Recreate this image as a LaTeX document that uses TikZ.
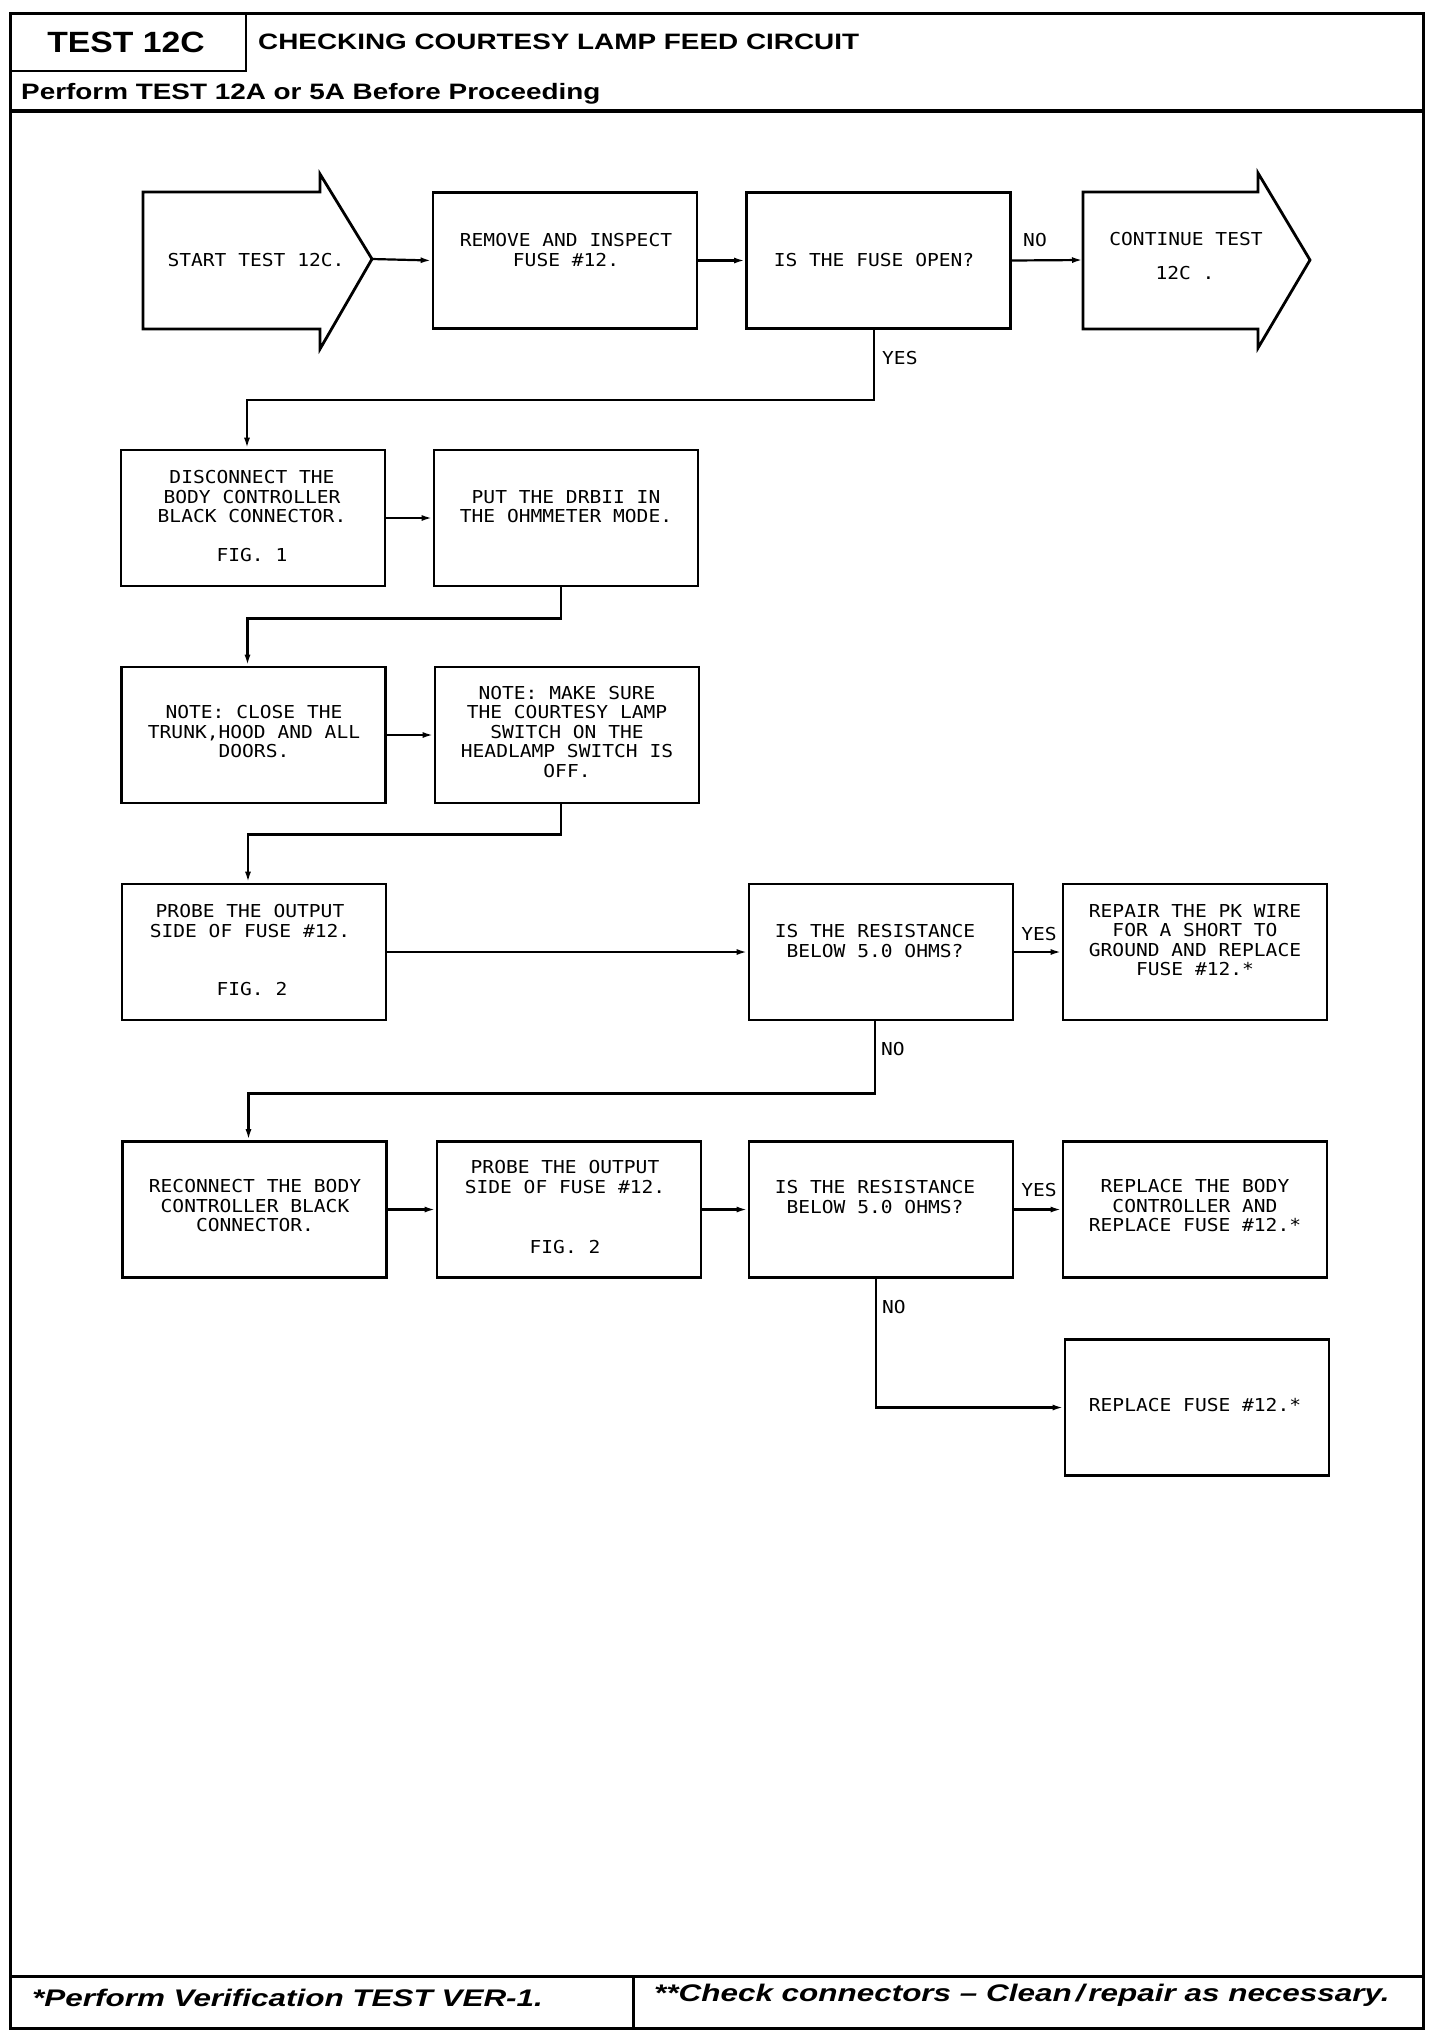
\documentclass[tikz,border=0pt]{standalone}
\usepackage{fontspec}
\usetikzlibrary{arrows.meta}
\newfontfamily\plotfont[FakeStretch=1.1]{DejaVu Sans Mono}
\newfontfamily\hdrfont[FakeStretch=1.25]{Liberation Sans}
\newfontfamily\ftrfont[FakeStretch=1.31]{Liberation Sans}
\newfontfamily\hdrbig[FakeStretch=1.15]{Liberation Sans}
\begin{document}
\begin{tikzpicture}[x=1pt,y=-1pt,
  box/.style={draw, line width=2.8pt, minimum width=264pt, minimum height=136pt, inner sep=0pt},
  outline/.style={draw, line width=2.8pt, line join=miter},
  conn/.style={line width=2.2pt, -{Latex[length=11pt,width=6pt]}},
  ptxt/.style={font=\plotfont\fontsize{17.8}{19.5}\selectfont, align=center, inner sep=0pt},
  hdr/.style={font=\hdrfont\bfseries\fontsize{22.3}{26}\selectfont, inner sep=0pt},
  ftr/.style={font=\ftrfont\bfseries\itshape\fontsize{24}{28}\selectfont, inner sep=0pt}]
\useasboundingbox (0,0) rectangle (1456,2038);
\fill[white] (0,0) rectangle (1456,2038);
% frame
\draw[line width=3pt] (10,13) rectangle (1423,2028);
\draw[line width=2.8pt] (10,71) -- (246,71) -- (246,13);
\draw[line width=4pt] (10,111) -- (1423,111);
\draw[line width=3pt] (10,1976) -- (1423,1976);
\draw[line width=3pt] (633,1976) -- (633,2028);
\node[font=\hdrbig\bfseries\fontsize{29.3}{32}\selectfont, inner sep=0pt] (ttest) at (126,42.5) {TEST 12C};
\node[hdr, anchor=base west] (ttitle) at (258,49) {CHECKING COURTESY LAMP FEED CIRCUIT};
\node[hdr, anchor=base west] (tperf) at (21,99) {Perform TEST 12A or 5A Before Proceeding};
\node[ftr, anchor=base west] (fleft) at (32,2006) {*Perform Verification TEST VER-1.};
\node[ftr, anchor=base west] (fright) at (654,2001) {**Check connectors – Clean\,/\,repair as necessary.};

% start arrow
\coordinate (stip) at (372,259);
\draw[outline] (143,192) -- (320,192) -- (320,174) -- (stip) -- (320,349) -- (320,329) -- (143,329) -- cycle;
\node[ptxt] (tstart) at (256,260) {START TEST 12C.};
% continue arrow
\coordinate (cleft) at (1083,260);
\coordinate (ctip) at (1310,260);
\draw[outline] (1083,192) -- (1258,192) -- (1258,173) -- (ctip) -- (1258,348) -- (1258,329) -- (1083,329) -- cycle;
\node[ptxt] (tcont1) at (1186,239) {CONTINUE TEST};
\node[ptxt] (tcont2) at (1185,273) {12C .};

% boxes
\node[box] (bremove) at (565,260.5) {};
\node[ptxt] (tremove) at (566,250) {REMOVE AND INSPECT\\FUSE \#12.};
\node[box] (bfuse) at (878.5,260.5) {};
\node[ptxt] (tfuse) at (874,260) {IS THE FUSE OPEN?};

\node[box] (bdisc) at (253,518) {};
\node[ptxt] (tdisc) at (252,497) {DISCONNECT THE\\BODY CONTROLLER\\BLACK CONNECTOR.};
\node[ptxt] (tfig1) at (252,555) {FIG. 1};
\node[box] (bput) at (566,518) {};
\node[ptxt] (tput) at (566,506.5) {PUT THE DRBII IN\\THE OHMMETER MODE.};

\node[box] (bclose) at (253.5,735) {};
\node[ptxt] (tclose) at (254,732) {NOTE: CLOSE THE\\TRUNK,HOOD AND ALL\\DOORS.};
\node[box] (bsure) at (567,735) {};
\node[ptxt] (tsure) at (567,732) {NOTE: MAKE SURE\\THE COURTESY LAMP\\SWITCH ON THE\\HEADLAMP SWITCH IS\\OFF.};

\node[box] (bprobe) at (254,952) {};
\node[ptxt] (tprobe) at (250,921) {PROBE THE OUTPUT\\SIDE OF FUSE \#12.};
\node[ptxt] (tfig2a) at (252,989) {FIG. 2};
\node[box] (bresa) at (881,952) {};
\node[ptxt] (tresa) at (875,941) {IS THE RESISTANCE\\BELOW 5.0 OHMS?};
\node[box] (brepair) at (1195,952) {};
\node[ptxt] (trepair) at (1195,940) {REPAIR THE PK WIRE\\FOR A SHORT TO\\GROUND AND REPLACE\\FUSE \#12.*};

\node[box] (brecon) at (254.5,1209.5) {};
\node[ptxt] (trecon) at (255,1206) {RECONNECT THE BODY\\CONTROLLER BLACK\\CONNECTOR.};
\node[box] (bprobeb) at (569,1209.5) {};
\node[ptxt] (tprobeb) at (565,1177) {PROBE THE OUTPUT\\SIDE OF FUSE \#12.};
\node[ptxt] (tfig2b) at (565,1247) {FIG. 2};
\node[box] (bresb) at (881,1209.5) {};
\node[ptxt] (tresb) at (875,1197) {IS THE RESISTANCE\\BELOW 5.0 OHMS?};
\node[box] (breplbody) at (1195,1209.5) {};
\node[ptxt] (treplbody) at (1195,1206) {REPLACE THE BODY\\CONTROLLER AND\\REPLACE FUSE \#12.*};
\node[box] (breplfuse) at (1197,1407.5) {};
\node[ptxt] (treplfuse) at (1195,1405) {REPLACE FUSE \#12.*};

% labels
\node[ptxt] (lno1) at (1035,240) {NO};
\node[ptxt, anchor=west] (lyes1) at (882,358) {YES};
\node[ptxt] (lyes2) at (1039,934) {YES};
\node[ptxt, anchor=west] (lno2) at (881,1049) {NO};
\node[ptxt] (lyes3) at (1039,1190) {YES};
\node[ptxt, anchor=west] (lno3) at (882,1307) {NO};

% connectors
\draw[conn] (stip) -- (bremove.west);
\draw[conn] (bremove.east) -- (bfuse.west);
\draw[conn] (bfuse.east) -- (cleft);
\draw[conn] ([xshift=-4.5pt]bfuse.south) -- ++(0,70) -| ([xshift=-6pt]bdisc.north);
\draw[conn] (bdisc.east) -- (bput.west);
\draw[conn] ([xshift=-5pt]bput.south) -- ++(0,31) -| ([xshift=-6pt]bclose.north);
\draw[conn] (bclose.east) -- (bsure.west);
\draw[conn] ([xshift=-6pt]bsure.south) -- ++(0,30) -| ([xshift=-6pt]bprobe.north);
\draw[conn] (bprobe.east) -- (bresa.west);
\draw[conn] (bresa.east) -- (brepair.west);
\draw[conn] ([xshift=-6pt]bresa.south) -- ++(0,72) -| ([xshift=-6pt]brecon.north);
\draw[conn] (brecon.east) -- (bprobeb.west);
\draw[conn] (bprobeb.east) -- (bresb.west);
\draw[conn] (bresb.east) -- (breplbody.west);
\draw[conn] ([xshift=-5pt]bresb.south) |- (breplfuse.west);
\end{tikzpicture}
\end{document}
